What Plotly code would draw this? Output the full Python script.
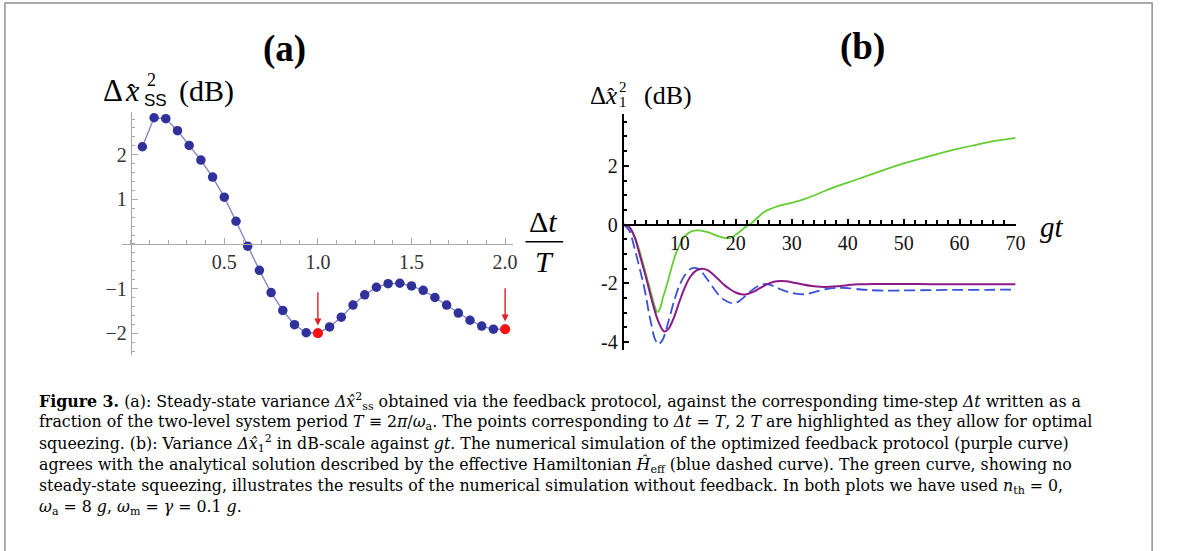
import plotly.graph_objects as go

W, H = 1179, 551

# ---------------- data: panel (a) ----------------
dt_over_T = [k / 16 for k in range(1, 33)]
var_ss_db = [2.18, 2.83, 2.81, 2.54, 2.21, 1.88, 1.50, 1.05, 0.51, -0.05,
             -0.59, -1.09, -1.49, -1.81, -1.99, -2.00, -1.86, -1.64, -1.37, -1.14,
             -0.97, -0.89, -0.88, -0.94, -1.04, -1.20, -1.37, -1.55, -1.71, -1.84,
             -1.91, -1.91]
highlight_idx = [15, 31]          # Δt = T, 2T
a_xticks = [0.5, 1.0, 1.5, 2.0]
a_xticktext = ["0.5", "1.0", "1.5", "2.0"]
a_yticks = [-2, -1, 1, 2]
a_yticktext = ["\u22122", "\u22121", "1", "2"]

# ---------------- data: panel (b) ----------------
t_fb = [0, 1, 2, 3, 4, 5, 6, 7, 7.3, 8, 9, 10, 11, 12, 13, 14, 15, 16, 17, 18, 19, 20,
        21, 22, 23, 24, 25, 26, 27, 28, 29, 30, 32, 34, 36, 38, 40, 42, 45, 50, 55, 60, 65, 70]
var_fb = [0, -0.08, -0.45, -1.12, -1.8, -2.55, -3.2, -3.6, -3.64, -3.55, -3.15, -2.6, -2.1,
          -1.75, -1.56, -1.5, -1.55, -1.7, -1.88, -2.06, -2.2, -2.31, -2.37, -2.37, -2.3,
          -2.2, -2.09, -2.0, -1.94, -1.92, -1.93, -1.96, -2.04, -2.1, -2.12, -2.1, -2.06,
          -2.03, -2.02, -2.02, -2.03, -2.03, -2.03, -2.03]

t_eff = [0, 1, 2, 3, 3.5, 4, 4.5, 5, 5.5, 6.2, 7, 8, 9, 10, 11, 12, 12.7, 13.5, 14, 15, 16,
         17, 18, 19, 19.6, 20.5, 21.5, 22.5, 23.5, 24.5, 25.3, 26, 27, 28, 29, 30, 31, 32,
         33, 34, 35, 36, 38, 40, 42, 44, 47, 50, 55, 60, 65, 70]
var_eff = [0, -0.2, -0.85, -1.6, -2.0, -2.45, -3.0, -3.45, -3.85, -4.08, -3.9, -3.3, -2.6,
           -2.05, -1.7, -1.5, -1.47, -1.52, -1.62, -1.88, -2.15, -2.4, -2.57, -2.66, -2.68,
           -2.62, -2.47, -2.3, -2.15, -2.05, -2.02, -2.04, -2.11, -2.2, -2.27, -2.32, -2.36,
           -2.37, -2.35, -2.3, -2.25, -2.2, -2.15, -2.16, -2.2, -2.23, -2.25, -2.24, -2.23,
           -2.22, -2.22, -2.21]

t_nofb = [0, 1, 2, 3, 4, 4.5, 5, 5.5, 6, 6.5, 7, 7.8, 8.5, 9.3, 10, 10.5, 11, 12, 13, 13.5,
          14, 15, 16, 17, 18, 18.8, 19.5, 20, 21, 22, 22.5, 23, 24, 25, 26, 27, 28, 30, 32,
          34, 36, 38, 40, 42, 45, 50, 55, 60, 65, 70]
var_nofb = [0, -0.08, -0.42, -1.0, -1.7, -2.05, -2.4, -2.75, -2.98, -2.85, -2.5, -2.0, -1.5,
            -1.0, -0.7, -0.5, -0.38, -0.24, -0.2, -0.2, -0.21, -0.26, -0.33, -0.4, -0.45,
            -0.46, -0.42, -0.35, -0.2, -0.05, 0.0, 0.08, 0.25, 0.42, 0.52, 0.59, 0.65, 0.74,
            0.85, 0.99, 1.15, 1.3, 1.43, 1.56, 1.76, 2.08, 2.35, 2.59, 2.8, 2.95]
b_xticks = [10, 20, 30, 40, 50, 60, 70]
b_yticks = [-4, -2, 0, 2]
b_yticktext = ["-4", "-2", "0", "2"]

# ---------------- layout helpers ----------------
SERIF = "Liberation Serif"
SANS = "Liberation Sans"
CAPFONT = "DejaVu Serif"


def xdom(x0, x1):
    return [x0 / W, x1 / W]


def ydom(y0, y1):
    return [1 - y1 / H, 1 - y0 / H]


def frac(v, rng, dom):
    return dom[0] + (v - rng[0]) / (rng[1] - rng[0]) * (dom[1] - dom[0])


xa_dom, ya_dom = xdom(123.3, 517), ydom(113, 357)
xa_rng, ya_rng = [-0.045, 2.04], [-2.49, 2.95]
xb_dom, yb_dom = xdom(629, 1024.3), ydom(115, 352)
xb_rng, yb_rng = [0, 70], [-4.27, 3.75]

fig = go.Figure()

# panel (a)
fig.add_trace(go.Scatter(
    x=dt_over_T, y=var_ss_db, mode="lines+markers", xaxis="x", yaxis="y",
    line=dict(color="#8585cc", width=1.4),
    marker=dict(color="#30319a", size=9.5, line=dict(width=0)),
    showlegend=False))
fig.add_trace(go.Scatter(
    x=[dt_over_T[i] for i in highlight_idx], y=[var_ss_db[i] for i in highlight_idx],
    mode="markers", xaxis="x", yaxis="y",
    marker=dict(color="#ff1010", size=10, line=dict(width=0)), showlegend=False))

# panel (b)
fig.add_trace(go.Scatter(x=t_nofb, y=var_nofb, mode="lines", xaxis="x2", yaxis="y2",
                         line=dict(color="#66cc33", width=1.8, shape="spline", smoothing=0.8),
                         showlegend=False))
fig.add_trace(go.Scatter(x=t_eff, y=var_eff, mode="lines", xaxis="x2", yaxis="y2",
                         line=dict(color="#3a4fdc", width=1.8, dash="11px,5px",
                                   shape="spline", smoothing=0.8),
                         showlegend=False))
fig.add_trace(go.Scatter(x=t_fb, y=var_fb, mode="lines", xaxis="x2", yaxis="y2",
                         line=dict(color="#8a1a8a", width=2.0, shape="spline", smoothing=0.8),
                         showlegend=False))

gray = "#a8a8a8"
tickfont_a = dict(family=SERIF, size=20, color="#333333")
tickfont_b = dict(family=SERIF, size=20, color="#111111")

fig.update_layout(
    width=W, height=H, margin=dict(l=0, r=0, t=0, b=0),
    paper_bgcolor="white", plot_bgcolor="rgba(0,0,0,0)",
    xaxis=dict(domain=xa_dom, range=xa_rng, anchor="free",
               position=frac(0, ya_rng, ya_dom),
               showline=True, linecolor=gray, linewidth=1, showgrid=False, zeroline=False,
               tickmode="array", tickvals=a_xticks, ticktext=a_xticktext,
               ticks="inside", ticklen=6, tickcolor=gray, tickwidth=1,
               minor=dict(tickmode="linear", tick0=0, dtick=0.1, ticks="inside",
                          ticklen=3.5, tickcolor=gray, tickwidth=1, showgrid=False),
               tickfont=tickfont_a),
    yaxis=dict(domain=ya_dom, range=ya_rng, anchor="free",
               position=frac(0, xa_rng, xa_dom),
               showline=True, linecolor=gray, linewidth=1, showgrid=False, zeroline=False,
               tickmode="array", tickvals=a_yticks, ticktext=a_yticktext,
               ticks="inside", ticklen=6, tickcolor=gray, tickwidth=1,
               minor=dict(tickmode="linear", tick0=0, dtick=0.2, ticks="inside",
                          ticklen=3.5, tickcolor=gray, tickwidth=1, showgrid=False),
               tickfont=tickfont_a),
    xaxis2=dict(domain=xb_dom, range=xb_rng, anchor="free",
                position=frac(0, yb_rng, yb_dom),
                showline=True, linecolor="black", linewidth=2, showgrid=False, zeroline=False,
                tickmode="array", tickvals=b_xticks,
                ticks="inside", ticklen=5, tickcolor="black", tickwidth=1.5,
                minor=dict(tickmode="linear", tick0=0, dtick=2, ticks="inside",
                           ticklen=3.5, tickcolor="black", tickwidth=1.5, showgrid=False),
                tickfont=tickfont_b),
    yaxis2=dict(domain=yb_dom, range=yb_rng, anchor="x2",
                showline=True, linecolor="black", linewidth=2, showgrid=False, zeroline=False,
                tickmode="array", tickvals=b_yticks, ticktext=b_yticktext,
                ticks="inside", ticklen=5, tickcolor="black", tickwidth=1.5,
                minor=dict(tickmode="linear", tick0=0, dtick=0.5, ticks="inside",
                           ticklen=3.5, tickcolor="black", tickwidth=1.5, showgrid=False),
                tickfont=tickfont_b),
)

anns = []


def ann(text, px, py, size, xanchor="left", family=SERIF, color="black", yanchor="middle"):
    anns.append(dict(text=text, x=px / W, y=1 - py / H, xref="paper", yref="paper",
                     xanchor=xanchor, yanchor=yanchor, showarrow=False,
                     font=dict(family=family, size=size, color=color)))


# red arrows pointing at the highlighted points
for i in highlight_idx:
    anns.append(dict(x=dt_over_T[i], y=var_ss_db[i] + 0.17, ax=dt_over_T[i],
                     ay=var_ss_db[i] + 0.95, xref="x", yref="y", axref="x", ayref="y",
                     showarrow=True, arrowhead=2, arrowsize=1, arrowwidth=1.4,
                     arrowcolor="#e02020", text=""))

# panel titles
ann("<b>(a)</b>", 287, 49, 37, xanchor="center")
ann("<b>(b)</b>", 870, 47, 37, xanchor="center")

# panel (a) y label
ann("\u0394", 102, 91, 31)
ann("<i>x</i>", 124, 91, 30)
ann("\u02c6", 133, 94, 26, xanchor="center")
ann("2", 146, 80, 18)
ann("SS", 143, 101, 17, family=SANS)
ann("(dB)", 179, 91, 30)
# panel (a) x label (fraction)
ann("\u0394<i>t</i>", 548, 223, 30, xanchor="center")
ann("<i>T</i>", 549, 263, 30, xanchor="center")

# panel (b) y label
ann("\u0394", 593, 96, 25)
ann("<i>x</i>", 608, 96, 25)
ann("\u02c6", 616, 96, 22, xanchor="center")
ann("2", 622, 87, 15)
ann("1", 622, 103, 15)
ann("(dB)", 647, 96, 26)
# panel (b) x label
ann("<i>gt</i>", 1047, 228, 29)

# caption
cap = [
    "<b>Figure 3.</b> (a): Steady-state variance <i>\u0394x\u0302</i><sup>2</sup><sub>ss</sub> obtained via the feedback protocol, against the corresponding time-step <i>\u0394t</i> written as a",
    "fraction of the two-level system period <i>T</i> \u2261 2<i>\u03c0</i>/<i>\u03c9</i><sub>a</sub>. The points corresponding to <i>\u0394t</i> = <i>T</i>, 2 <i>T</i> are highlighted as they allow for optimal",
    "squeezing. (b): Variance <i>\u0394x\u0302</i><sub>1</sub><sup>2</sup> in dB-scale against <i>gt</i>. The numerical simulation of the optimized feedback protocol (purple curve)",
    "agrees with the analytical solution described by the effective Hamiltonian <i>\u0124</i><sub>eff</sub> (blue dashed curve). The green curve, showing no",
    "steady-state squeezing, illustrates the results of the numerical simulation without feedback. In both plots we have used <i>n</i><sub>th</sub> = 0,",
    "<i>\u03c9</i><sub>a</sub> = 8 <i>g</i>, <i>\u03c9</i><sub>m</sub> = <i>\u03b3</i> = 0.1 <i>g</i>.",
]
cap_y = [404, 425, 446, 468, 489, 510]
for line, y in zip(cap, cap_y):
    ann(line, 37, y, 15.8, family=CAPFONT)

fig.update_layout(annotations=anns)

# fraction bar and figure frame
fig.add_shape(type="line", x0=530 / W, x1=568 / W, y0=1 - 243 / H, y1=1 - 243 / H,
              xref="paper", yref="paper", line=dict(color="black", width=1.5))
fig.add_shape(type="rect", x0=5 / W, x1=1162 / W, y0=-0.05, y1=1 - 3 / H,
              xref="paper", yref="paper", line=dict(color="#909090", width=1.5))

fig.write_html("out.html")
